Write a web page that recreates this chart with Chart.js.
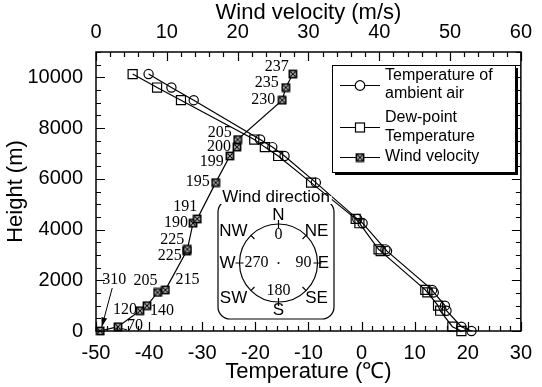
<!DOCTYPE html>
<html>
<head>
<meta charset="utf-8">
<script src="https://cdn.jsdelivr.net/npm/chart.js@4.4.0/dist/chart.umd.min.js"></script>
<style>
  body { margin: 0; background: #fff; }
</style>
</head>
<body>
<canvas id="profile" width="542" height="387"></canvas>
<script>
// sounding levels (m), shared by the three profiles
const heights   = [0, 170, 800, 1000, 1520, 1620, 3150, 3220, 4250, 4420, 5850, 6900, 7250, 7550, 9100, 9600, 10130];
// temperature of ambient air (deg C)
const airTemp   = [20.7, 18.8, 16.0, 15.7, 13.6, 13.3, 4.8, 4.5, 0.2, -0.8, -8.6, -14.5, -16.8, -19.1, -31.6, -35.8, -40.1];
// dew-point temperature (deg C)
const dewPoint  = [18.8, 17.1, 14.8, 14.4, 12.4, 12.0, 3.6, 3.2, -0.4, -1.1, -9.5, -15.7, -18.2, -20.2, -34.0, -38.5, -43.1];
// wind velocity (m/s) and direction (deg) at each level
const windSpeed = [0.6, 3.1, 6.2, 7.2, 8.7, 9.8, 12.8, 12.9, 13.7, 14.3, 16.9, 18.9, 19.9, 20.0, 26.3, 26.8, 27.8];
const windDir   = ['310', '70', '120', '140', '205', '215', '225', '225', '190', '191', '195', '199', '200', '205', '230', '235', '237'];

// axis tick labels
const tempTicks   = [-50, -40, -30, -20, -10, 0, 10, 20, 30];
const windTicks   = [0, 10, 20, 30, 40, 50, 60];
const heightTicks = [0, 2000, 4000, 6000, 8000, 10000];

const seriesNames = ['Temperature of ambient air', 'Dew-point Temperature', 'Wind velocity'];
const legendLines = [['Temperature of', 'ambient air'], ['Dew-point', 'Temperature'], ['Wind velocity']];
const compassLetters = ['N', 'NE', 'E', 'SE', 'S', 'SW', 'W', 'NW'];
const compassDegrees = ['0', '90', '180', '270'];

// where each direction label sits, relative to its marker (px)
const dirOffsets = [
    [14, -51], [17, -1], [-15, -1], [15, 5], [-12, -12], [22, -10], [-17, 5], [-15, -10],
    [-17, 0], [-12, -12], [-18, -1], [-18, 6], [-18, 0], [-18, -7], [-19, 0], [-19, -5], [-16, -7]
];

const SANS  = '"Liberation Sans", Arial, Helvetica, sans-serif';
const SERIF = '"Liberation Serif", "Times New Roman", serif';

// little square with a cross in it, used as the wind marker
function crossedSquare(){
    const c = document.createElement('canvas');
    c.width = 10; c.height = 10;
    const g = c.getContext('2d');
    g.fillStyle = '#fff';
    g.fillRect(1, 1, 8, 8);
    g.strokeStyle = '#000';
    g.lineWidth = 1.8;
    g.strokeRect(1.5, 1.5, 7, 7);
    g.lineWidth = 1.1;
    g.beginPath();
    g.moveTo(2.5, 2.5); g.lineTo(7.5, 7.5);
    g.moveTo(7.5, 2.5); g.lineTo(2.5, 7.5);
    g.stroke();
    return c;
}
const windMarker = crossedSquare();

function pairs(xs){
    return heights.map((h, i) => ({ x: xs[i], y: h }));
}

function isMult(v, m){
    return Math.abs(v / m - Math.round(v / m)) < 1e-6;
}

// frame + inward ticks on all four sides
const frameTicks = {
    id: 'frameTicks',
    afterDatasetsDraw(chart){
        const ctx = chart.ctx;
        const a = chart.chartArea;
        const sx = chart.scales.x, sx2 = chart.scales.x2, sy = chart.scales.y;
        ctx.save();
        ctx.strokeStyle = '#000';
        ctx.lineWidth = 1.2;
        ctx.beginPath();
        for(let v = -50; v <= 30; v += 2){
            const px = Math.round(sx.getPixelForValue(v)) + 0.5;
            const len = isMult(v, 10) ? 9 : 5;
            ctx.moveTo(px, a.bottom); ctx.lineTo(px, a.bottom - len);
        }
        for(let v = 0; v <= 60; v += 2){
            const px = Math.round(sx2.getPixelForValue(v)) + 0.5;
            const len = isMult(v, 10) ? 9 : 5;
            ctx.moveTo(px, a.top); ctx.lineTo(px, a.top + len);
        }
        for(let v = 0; v <= 11000; v += 500){
            const py = Math.round(sy.getPixelForValue(v)) + 0.5;
            const len = isMult(v, 2000) ? 9 : 5;
            ctx.moveTo(a.left, py); ctx.lineTo(a.left + len, py);
            ctx.moveTo(a.right, py); ctx.lineTo(a.right - len, py);
        }
        ctx.stroke();
        ctx.lineWidth = 1.5;
        ctx.strokeRect(a.left, a.top, a.right - a.left, a.bottom - a.top);
        ctx.restore();
    }
};

// wind direction numbers beside the wind markers
const dirLabels = {
    id: 'dirLabels',
    afterDatasetsDraw(chart){
        const ctx = chart.ctx;
        const meta = chart.getDatasetMeta(2);
        ctx.save();
        ctx.fillStyle = '#000';
        ctx.strokeStyle = '#000';
        ctx.font = '16px ' + SERIF;
        ctx.textAlign = 'center';
        ctx.textBaseline = 'middle';
        meta.data.forEach((pt, i) => {
            const o = dirOffsets[i];
            ctx.fillText(windDir[i], pt.x + o[0], pt.y + o[1]);
        });
        // arrow from "310" down to the ground-level marker
        const p0 = meta.data[0];
        const x1 = p0.x + 12, y1 = p0.y - 43, x2 = p0.x + 1.5, y2 = p0.y - 4;
        ctx.lineWidth = 1;
        ctx.beginPath(); ctx.moveTo(x1, y1); ctx.lineTo(x2, y2); ctx.stroke();
        const ang = Math.atan2(y2 - y1, x2 - x1);
        ctx.beginPath();
        ctx.moveTo(x2, y2);
        ctx.lineTo(x2 - 10 * Math.cos(ang - 0.3), y2 - 10 * Math.sin(ang - 0.3));
        ctx.lineTo(x2 - 10 * Math.cos(ang + 0.3), y2 - 10 * Math.sin(ang + 0.3));
        ctx.closePath(); ctx.fill();
        // short leader to "70"
        const p1 = meta.data[1];
        ctx.beginPath(); ctx.moveTo(p1.x + 4, p1.y + 2); ctx.lineTo(p1.x + 9, p1.y + 3); ctx.stroke();
        ctx.restore();
    }
};

// wind rose inset and legend box
const extras = {
    id: 'extras',
    afterDraw(chart){
        const ctx = chart.ctx;
        ctx.save();
        ctx.strokeStyle = '#000';
        ctx.fillStyle = '#000';

        // compass box
        const bx = 218, by = 200, bw = 116, bh = 119, r = 12;
        ctx.lineWidth = 1.2;
        ctx.beginPath();
        ctx.roundRect(bx, by, bw, bh, r);
        ctx.stroke();
        ctx.font = '17px ' + SANS;
        ctx.textAlign = 'center';
        ctx.textBaseline = 'middle';
        const tw = ctx.measureText('Wind direction').width;
        ctx.fillStyle = '#fff';
        ctx.fillRect(bx + bw / 2 - tw / 2 - 2, by - 4, tw + 4, 8);
        ctx.fillStyle = '#000';
        ctx.fillText('Wind direction', bx + bw / 2, by - 3);

        const cx = 278.5, cy = 263, cr = 39;
        ctx.lineWidth = 1.2;
        ctx.beginPath(); ctx.arc(cx, cy, cr, 0, Math.PI * 2); ctx.stroke();
        ctx.beginPath();
        for(let k = 0; k < 8; k++){
            const t = k * Math.PI / 4;
            const s = Math.sin(t), c = -Math.cos(t);
            const r0 = k % 2 === 0 ? cr - 4 : cr - 5;
            const r1 = k % 2 === 0 ? cr + 4 : cr;
            ctx.moveTo(cx + s * r0, cy + c * r0);
            ctx.lineTo(cx + s * r1, cy + c * r1);
        }
        ctx.stroke();
        ctx.beginPath(); ctx.arc(cx, cy, 1, 0, Math.PI * 2); ctx.fill();

        ctx.font = '17px ' + SANS;
        const letterPos = [[0, -48], [38, -32], [45, 0], [38, 35], [0, 47], [-45, 35], [-51, 0], [-45, -32]];
        compassLetters.forEach((t, i) => ctx.fillText(t, cx + letterPos[i][0], cy + letterPos[i][1]));
        ctx.font = '16px ' + SERIF;
        const degPos = [[0, -28], [25, 0], [0, 28], [-22, 0]];
        compassDegrees.forEach((t, i) => ctx.fillText(t, cx + degPos[i][0], cy + degPos[i][1]));

        // legend box with drop shadow
        const lx = 332, ly = 65, lw = 183, lh = 107;
        ctx.fillRect(lx + 3, ly + 3, lw, lh);
        ctx.fillStyle = '#fff';
        ctx.fillRect(lx, ly, lw, lh);
        ctx.lineWidth = 1;
        ctx.strokeRect(lx + 0.5, ly + 0.5, lw, lh);
        ctx.fillStyle = '#000';
        ctx.font = '16px ' + SANS;
        ctx.textAlign = 'left';
        const rows = [{ y: 85.5, lines: [76, 94] }, { y: 127.5, lines: [118, 137] }, { y: 157.5, lines: [157] }];
        rows.forEach((row, i) => {
            ctx.lineWidth = 1.2;
            ctx.beginPath(); ctx.moveTo(340, row.y); ctx.lineTo(380, row.y); ctx.stroke();
            if(i === 0){
                ctx.fillStyle = '#fff';
                ctx.beginPath(); ctx.arc(360, row.y, 4.8, 0, Math.PI * 2); ctx.fill(); ctx.stroke();
            }else if(i === 1){
                ctx.fillStyle = '#fff';
                ctx.fillRect(355.5, row.y - 4.5, 9, 9);
                ctx.strokeRect(355.5, row.y - 4.5, 9, 9);
            }else{
                ctx.drawImage(windMarker, 355, row.y - 5);
            }
            ctx.fillStyle = '#000';
            legendLines[i].forEach((t, j) => ctx.fillText(t, 385, row.lines[j]));
        });
        ctx.restore();
    }
};

const axisFont  = { family: SANS, size: 20 };
const titleFont = { family: SANS, size: 22 };

function fixedTicks(list){
    return s => { s.ticks = list.map(v => ({ value: v })); };
}

new Chart(document.getElementById('profile'), {
    type: 'scatter',
    data: {
        datasets: [{
            label: seriesNames[0],
            data: pairs(airTemp),
            xAxisID: 'x', yAxisID: 'y',
            showLine: true,
            borderColor: '#000', borderWidth: 1.2,
            pointStyle: 'circle', pointRadius: 4.6,
            pointBorderColor: '#000', pointBorderWidth: 1.2,
            pointBackgroundColor: 'rgba(0,0,0,0)',
            clip: false
        }, {
            label: seriesNames[1],
            data: pairs(dewPoint),
            xAxisID: 'x', yAxisID: 'y',
            showLine: true,
            borderColor: '#000', borderWidth: 1.2,
            pointStyle: 'rect', pointRadius: 6.4,
            pointBorderColor: '#000', pointBorderWidth: 1.2,
            pointBackgroundColor: 'rgba(0,0,0,0)',
            clip: false
        }, {
            label: seriesNames[2],
            data: pairs(windSpeed),
            xAxisID: 'x2', yAxisID: 'y',
            showLine: true,
            borderColor: '#000', borderWidth: 1.2,
            pointStyle: windMarker,
            clip: false
        }]
    },
    options: {
        responsive: false,
        animation: false,
        devicePixelRatio: 1,
        layout: { padding: { left: 0, right: 13, top: 0, bottom: 0 } },
        plugins: { legend: { display: false }, tooltip: { enabled: false } },
        scales: {
            x: {
                type: 'linear', position: 'bottom', min: -50, max: 30,
                afterBuildTicks: fixedTicks(tempTicks),
                ticks: { color: '#000', font: axisFont, padding: 10, autoSkip: false, maxRotation: 0 },
                grid: { display: false, drawTicks: false },
                border: { display: false },
                title: { display: true, text: 'Temperature (℃)', color: '#000', font: titleFont, padding: { top: 0, bottom: 2 } },
                afterFit: s => { s.height = 56; }
            },
            x2: {
                type: 'linear', position: 'top', min: 0, max: 60,
                afterBuildTicks: fixedTicks(windTicks),
                ticks: { color: '#000', font: axisFont, padding: 8, autoSkip: false, maxRotation: 0 },
                grid: { display: false, drawTicks: false },
                border: { display: false },
                title: { display: true, text: 'Wind velocity (m/s)', color: '#000', font: titleFont, padding: { top: 0, bottom: 0 } },
                afterFit: s => { s.height = 52; }
            },
            y: {
                type: 'linear', position: 'left', min: 0, max: 11000,
                afterBuildTicks: fixedTicks(heightTicks),
                ticks: { color: '#000', font: axisFont, padding: 13, autoSkip: false,
                         callback: v => String(v) },
                grid: { display: false, drawTicks: false },
                border: { display: false },
                title: { display: true, text: 'Height (m)', color: '#000', font: titleFont, padding: { top: 3, bottom: 0 } },
                afterFit: s => { s.width = 96; }
            }
        }
    },
    plugins: [frameTicks, dirLabels, extras]
});
</script>
</body>
</html>
